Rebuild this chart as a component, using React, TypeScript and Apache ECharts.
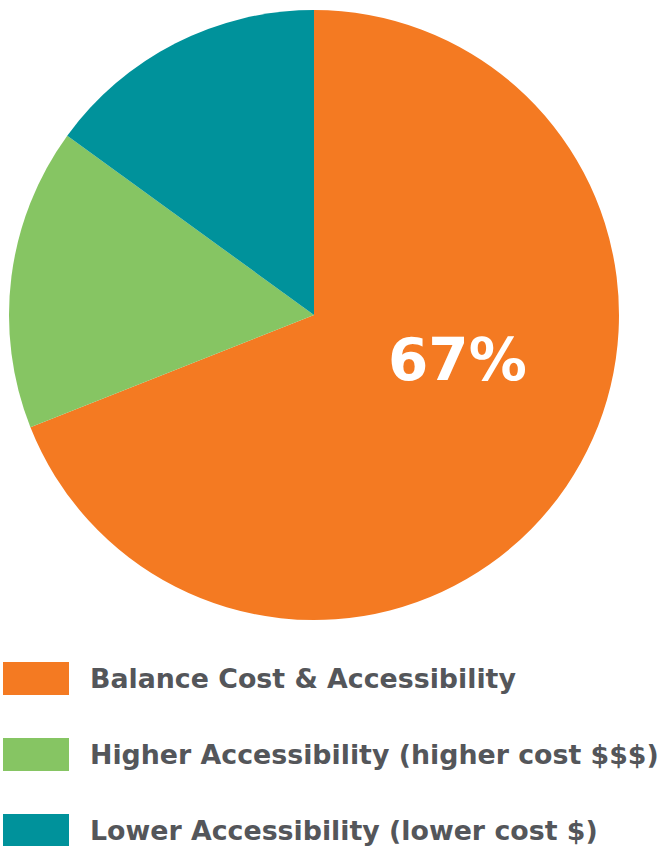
import React, { useEffect, useRef } from "react";
import * as echarts from "echarts";

const categories = [
  "Balance Cost & Accessibility",
  "Higher Accessibility (higher cost $$$)",
  "Lower Accessibility (lower cost $)",
];
const values = [69, 16, 15];
const colors = ["#F47A22", "#86C563", "#00929B"];
const highlightLabel = "67%";

export default function App() {
  const ref = useRef<HTMLDivElement>(null);
  useEffect(() => {
    document.body.style.margin = "0";
    const chart = echarts.init(ref.current!, null, { renderer: "svg" });
    chart.setOption({
      animation: false,
      color: colors,
      legend: {
        orient: "vertical",
        left: 3,
        top: 662,
        height: 200,
        padding: 0,
        itemWidth: 66,
        itemHeight: 33,
        itemGap: 43,
        icon: "rect",
        selectedMode: false,
        textStyle: {
          fontFamily: "DejaVu Sans",
          fontWeight: "bold",
          fontSize: 26.8,
          color: "#54565A",
          padding: [0, 0, 0, 16],
        },
        data: categories,
      },
      graphic: [
        {
          type: "text",
          left: 388,
          top: 331,
          z: 100,
          style: {
            text: highlightLabel,
            fill: "#fff",
            fontFamily: "DejaVu Sans",
            fontWeight: "bold",
            fontSize: 58,
          },
        },
      ],
      series: [
        {
          type: "pie",
          center: [314, 315],
          radius: 305,
          startAngle: 90,
          clockwise: true,
          label: { show: false },
          labelLine: { show: false },
          emphasis: { disabled: true },
          itemStyle: { borderWidth: 0 },
          data: categories.map((name, i) => ({ name, value: values[i] })),
        },
      ],
    });
    return () => chart.dispose();
  }, []);
  return <div ref={ref} style={{ width: 659, height: 846 }} />;
}
